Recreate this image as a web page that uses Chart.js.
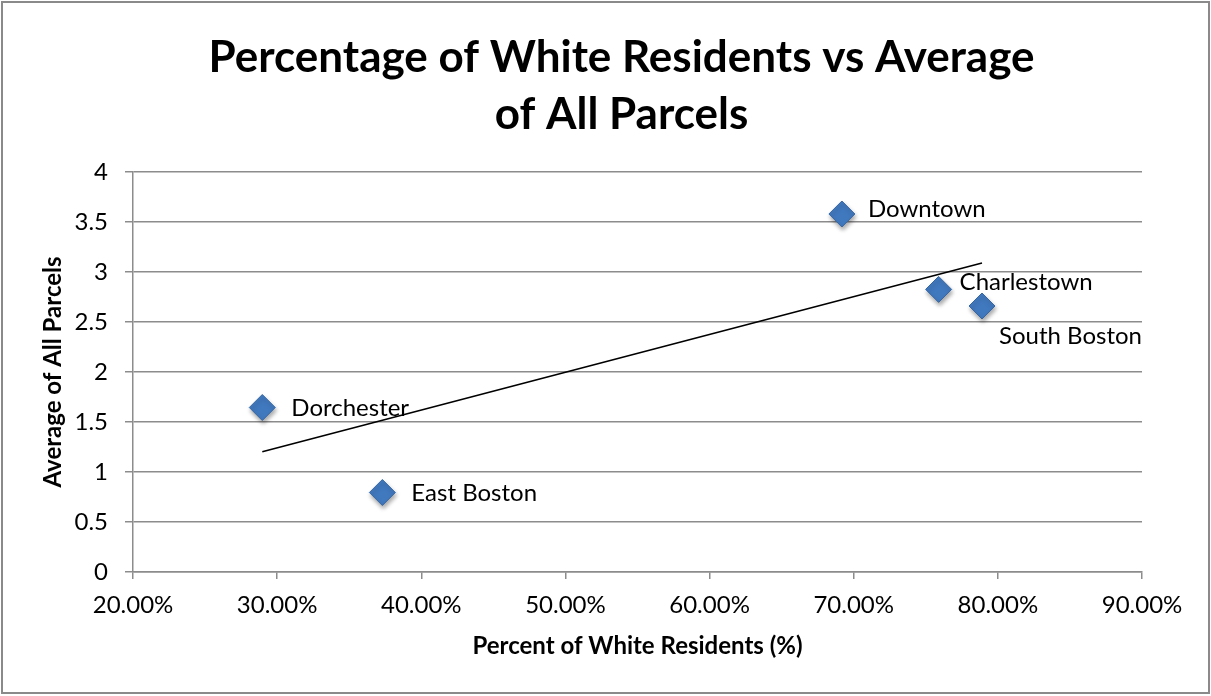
<!DOCTYPE html>
<html>
<head>
<meta charset="utf-8">
<script src="https://cdn.jsdelivr.net/npm/chart.js@4/dist/chart.umd.min.js"></script>
<style>
  html, body { margin: 0; padding: 0; background: #fff; }
  #wrap { width: 1211px; height: 696px; position: relative; }
</style>
</head>
<body>
<div id="wrap"><canvas id="c" width="1211" height="696"></canvas></div>
<script>
// Neighbourhood names, share of white residents (%) and average parcel score
const neighborhoods = ['Dorchester', 'East Boston', 'Downtown', 'Charlestown', 'South Boston'];
const whitePct = [28.97, 37.3, 69.18, 75.89, 78.9];
const parcelAvg = [1.645, 0.795, 3.58, 2.826, 2.66];

// Axis tick values
const xTicks = [20, 30, 40, 50, 60, 70, 80, 90];
const yTicks = [0, 0.5, 1, 1.5, 2, 2.5, 3, 3.5, 4];

// Least-squares trend line across the plotted points
function linearFit(xs, ys) {
  const n = xs.length;
  const mx = xs.reduce((a, b) => a + b, 0) / n;
  const my = ys.reduce((a, b) => a + b, 0) / n;
  let sxy = 0, sxx = 0;
  for (let i = 0; i < n; i++) {
    sxy += (xs[i] - mx) * (ys[i] - my);
    sxx += (xs[i] - mx) * (xs[i] - mx);
  }
  const slope = sxy / sxx;
  return x => my + slope * (x - mx);
}
const fit = linearFit(whitePct, parcelAvg);
const xMin = Math.min(...whitePct), xMax = Math.max(...whitePct);
const trendPoints = [{ x: xMin, y: fit(xMin) }, { x: xMax, y: fit(xMax) }];

const points = whitePct.map((x, i) => ({ x, y: parcelAvg[i] }));

// Label placement relative to each marker (pixels)
const labelOffsets = [[29, 1], [29, 1], [26, -5], [21, -7], [17, 30]];

const FONT = 'Lato, "Open Sans", sans-serif';
const GRID = '#8c8c8c';

const frame = {
  id: 'frame',
  afterDraw(chart) {
    const ctx = chart.ctx;
    ctx.save();
    ctx.strokeStyle = '#8a8a8a';
    ctx.lineWidth = 2;
    ctx.strokeRect(2, 2, chart.width - 4, chart.height - 5);
    ctx.restore();
  }
};

const markerShadow = {
  id: 'markerShadow',
  beforeDatasetDraw(chart, args) {
    if (args.index !== 1) return;
    const ctx = chart.ctx;
    ctx.save();
    ctx.shadowColor = 'rgba(0,0,0,0.35)';
    ctx.shadowBlur = 4;
    ctx.shadowOffsetX = 1;
    ctx.shadowOffsetY = 3;
  },
  afterDatasetDraw(chart, args) {
    if (args.index !== 1) return;
    chart.ctx.restore();
  }
};

const pointLabels = {
  id: 'pointLabels',
  afterDatasetsDraw(chart) {
    const meta = chart.getDatasetMeta(1);
    const ctx = chart.ctx;
    ctx.save();
    ctx.font = '24px ' + FONT;
    ctx.fillStyle = '#000';
    ctx.textAlign = 'left';
    ctx.textBaseline = 'middle';
    meta.data.forEach((el, i) => {
      const [dx, dy] = labelOffsets[i];
      ctx.fillText(neighborhoods[i], el.x + dx, el.y + dy);
    });
    ctx.restore();
  }
};

new Chart(document.getElementById('c'), {
  type: 'scatter',
  data: {
    datasets: [
      {
        type: 'line',
        label: 'Linear trend',
        data: trendPoints,
        borderColor: '#000',
        borderWidth: 1.6,
        pointRadius: 0,
        fill: false
      },
      {
        label: 'Average of All Parcels',
        data: points,
        pointStyle: 'rectRot',
        pointRadius: 13,
        backgroundColor: '#4179bf',
        borderColor: '#3767a3',
        borderWidth: 1
      }
    ]
  },
  options: {
    responsive: false,
    animation: false,
    layout: { padding: { left: 32, right: 0, top: 0, bottom: 0 } },
    plugins: {
      legend: { display: false },
      tooltip: { enabled: false },
      title: {
        display: true,
        text: ['Percentage of White Residents vs Average', 'of All Parcels'],
        color: '#000',
        font: { family: FONT, size: 44, weight: 'bold', lineHeight: 57 / 44 },
        padding: { top: 29.5, bottom: 28.5 }
      }
    },
    scales: {
      x: {
        type: 'linear',
        min: 20,
        max: 90,
        afterBuildTicks(scale) { scale.ticks = xTicks.map(v => ({ value: v })); },
        afterFit(scale) { scale.height = 124; },
        ticks: {
          color: '#000',
          font: { family: FONT, size: 24 },
          padding: 12,
          maxRotation: 0,
          callback: v => v.toFixed(2) + '%'
        },
        grid: { display: true, drawOnChartArea: false, drawTicks: true, tickLength: 7, color: GRID, lineWidth: 1.5 },
        border: { display: true, color: GRID, width: 1.5 },
        title: {
          display: true,
          text: 'Percent of White Residents (%)',
          color: '#000',
          font: { family: FONT, size: 24, weight: 'bold', lineHeight: 1.2 },
          padding: { top: 0, bottom: 35.6 }
        }
      },
      y: {
        type: 'linear',
        min: 0,
        max: 4,
        afterBuildTicks(scale) { scale.ticks = yTicks.map(v => ({ value: v })); },
        afterFit(scale) { scale.width = 101; },
        ticks: {
          color: '#000',
          font: { family: FONT, size: 24 },
          padding: 17,
          callback: v => String(v)
        },
        grid: { display: true, drawTicks: true, tickLength: 8, color: GRID, lineWidth: 1.5 },
        border: { display: true, color: GRID, width: 1.5 },
        title: {
          display: true,
          text: 'Average of All Parcels',
          color: '#000',
          font: { family: FONT, size: 24, weight: 'bold', lineHeight: 1.2 },
          padding: { top: 6.6, bottom: 0 }
        }
      },
      // empty right-hand gutter keeping the plot clear of the frame
      gutter: {
        type: 'linear',
        position: 'right',
        display: true,
        afterFit(scale) { scale.width = 69; },
        ticks: { display: false },
        grid: { display: false, drawTicks: false },
        border: { display: false }
      }
    }
  },
  plugins: [frame, markerShadow, pointLabels]
});
</script>
</body>
</html>
